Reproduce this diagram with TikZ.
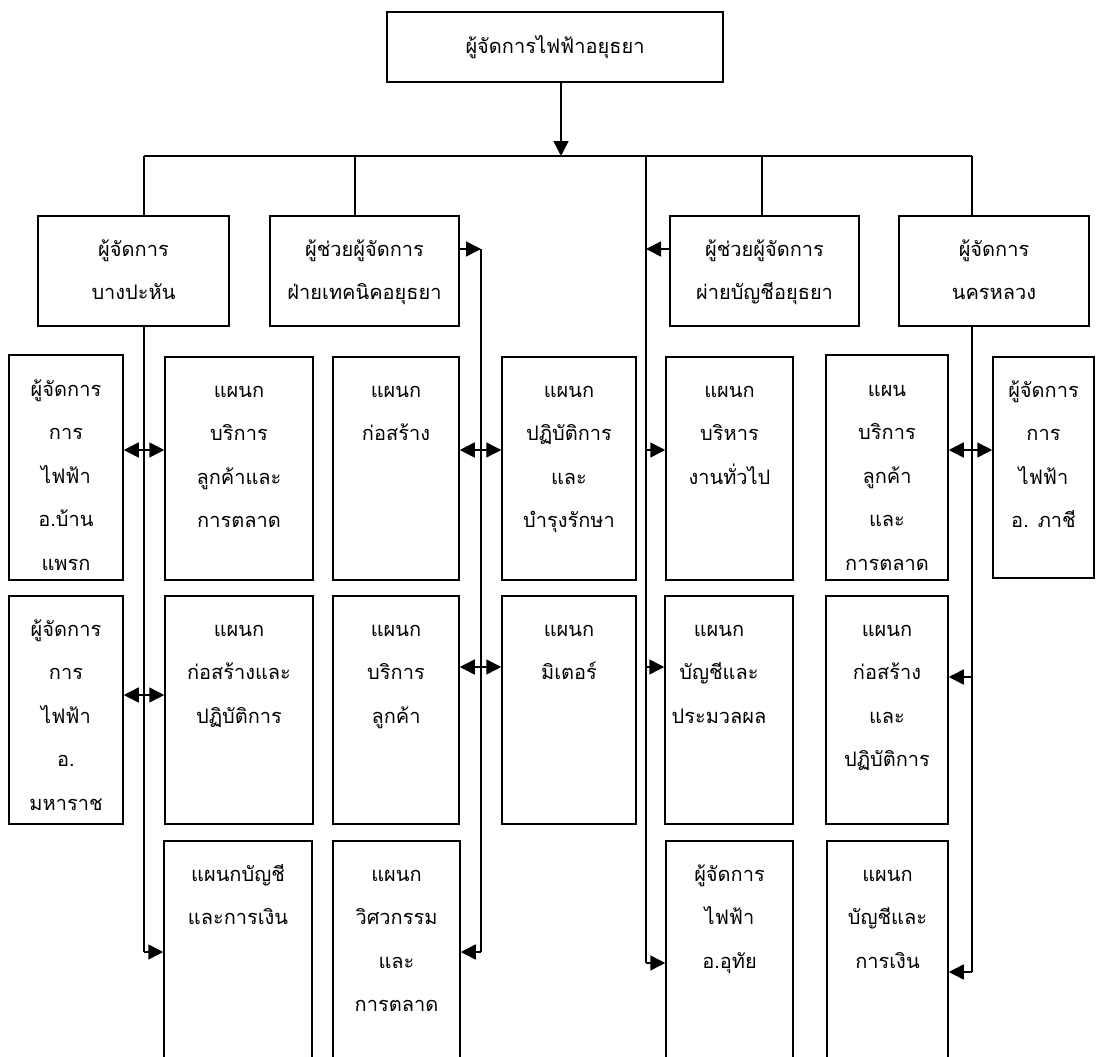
\documentclass[tikz,border=0pt]{standalone}
\usepackage{fontspec}
\newfontfamily\thaifont[Script=Thai]{Loma}
\usetikzlibrary{arrows.meta,fit}
\newcommand\tl[1]{\parbox[t]{240pt}{\centering #1}}
\begin{document}
\begin{tikzpicture}[x=1pt,y=-1pt,
  ln/.style={line width=1.5pt},
  arr/.style={line width=1.5pt,-{Triangle[length=15pt,width=15pt]}},
  box/.style={draw,line width=1.5pt,rectangle,inner sep=0pt},
  txt/.style={anchor=base,inner sep=0pt,font=\thaifont\fontsize{20}{43.5}\selectfont}]
\useasboundingbox (0,0) rectangle (1096,1057);
\clip (0,0) rectangle (1096,1057);
% boxes
\node[box,fit={(387,12) (723,82)}] (top) {};
\node[box,fit={(38,216) (229,326)}] (m1) {};
\node[box,fit={(270,216) (459,326)}] (m2) {};
\node[box,fit={(670,216) (859,326)}] (m3) {};
\node[box,fit={(899,216) (1089,326)}] (m4) {};
\node[box,fit={(9,355) (123,580)}] (A1) {};
\node[box,fit={(165,357) (313,580)}] (B1) {};
\node[box,fit={(333,357) (459,580)}] (C1) {};
\node[box,fit={(502,357) (636,580)}] (D1) {};
\node[box,fit={(666,357) (793,580)}] (E1) {};
\node[box,fit={(826,355) (948,580)}] (F1) {};
\node[box,fit={(993,357) (1094,578)}] (G1) {};
\node[box,fit={(9,596) (123,824)}] (A2) {};
\node[box,fit={(165,596) (313,824)}] (B2) {};
\node[box,fit={(333,596) (459,824)}] (C2) {};
\node[box,fit={(502,596) (636,824)}] (D2) {};
\node[box,fit={(665,596) (793,824)}] (E2) {};
\node[box,fit={(826,596) (948,824)}] (F2) {};
\node[box,fit={(164,841) (312,1090)}] (B3) {};
\node[box,fit={(333,841) (460,1090)}] (C3) {};
\node[box,fit={(666,841) (793,1090)}] (E3) {};
\node[box,fit={(827,841) (948,1090)}] (F3) {};
% texts
\node[txt] (topt) at ([yshift=-42pt]top.north) {\tl{ผู้จัดการไฟฟ้าอยุธยา}};
\node[txt] (m1t) at ([yshift=-41pt]m1.north) {\tl{ผู้จัดการ\\บางปะหัน}};
\node[txt] (m2t) at ([yshift=-41pt]m2.north) {\tl{ผู้ช่วยผู้จัดการ\\ฝ่ายเทคนิคอยุธยา}};
\node[txt] (m3t) at ([yshift=-41pt]m3.north) {\tl{ผู้ช่วยผู้จัดการ\\ผ่ายบัญชีอยุธยา}};
\node[txt] (m4t) at ([yshift=-41pt]m4.north) {\tl{ผู้จัดการ\\นครหลวง}};
\node[txt] (A1t) at ([yshift=-42pt]A1.north) {\tl{ผู้จัดการ\\การ\\ไฟฟ้า\\อ.บ้าน\\แพรก}};
\node[txt] (B1t) at ([yshift=-41pt]B1.north) {\tl{แผนก\\บริการ\\ลูกค้าและ\\การตลาด}};
\node[txt] (C1t) at ([yshift=-41pt]C1.north) {\tl{แผนก\\ก่อสร้าง}};
\node[txt] (D1t) at ([yshift=-41pt]D1.north) {\tl{แผนก\\ปฏิบัติการ\\และ\\บำรุงรักษา}};
\node[txt] (E1t) at ([yshift=-41pt]E1.north) {\tl{แผนก\\บริหาร\\งานทั่วไป}};
\node[txt] (F1t) at ([yshift=-42pt]F1.north) {\tl{แผน\\บริการ\\ลูกค้า\\และ\\การตลาด}};
\node[txt] (G1t) at ([yshift=-41pt]G1.north) {\tl{ผู้จัดการ\\การ\\ไฟฟ้า\\อ. ภาชี}};
\node[txt] (A2t) at ([yshift=-41pt]A2.north) {\tl{ผู้จัดการ\\การ\\ไฟฟ้า\\อ.\\มหาราช}};
\node[txt] (B2t) at ([yshift=-41pt]B2.north) {\tl{แผนก\\ก่อสร้างและ\\ปฏิบัติการ}};
\node[txt] (C2t) at ([yshift=-41pt]C2.north) {\tl{แผนก\\บริการ\\ลูกค้า}};
\node[txt] (D2t) at ([yshift=-41pt]D2.north) {\tl{แผนก\\มิเตอร์}};
\node[txt] (E2t) at ([yshift=-41pt,xshift=-10pt]E2.north) {\tl{แผนก\\บัญชีและ\\ประมวลผล}};
\node[txt] (F2t) at ([yshift=-41pt]F2.north) {\tl{แผนก\\ก่อสร้าง\\และ\\ปฏิบัติการ}};
\node[txt] (B3t) at ([yshift=-41pt]B3.north) {\tl{แผนกบัญชี\\และการเงิน}};
\node[txt] (C3t) at ([yshift=-41pt]C3.north) {\tl{แผนก\\วิศวกรรม\\และ\\การตลาด}};
\node[txt] (E3t) at ([yshift=-41pt]E3.north) {\tl{ผู้จัดการ\\ไฟฟ้า\\อ.อุทัย}};
\node[txt] (F3t) at ([yshift=-41pt]F3.north) {\tl{แผนก\\บัญชีและ\\การเงิน}};
% coordinates
\coordinate (hb) at (561,156);
\coordinate (busL) at (144,156);
\coordinate (busR) at (972,156);
\coordinate (d2) at (355,156);
\coordinate (d3) at (762,156);
\coordinate (tC) at (646,156);
\coordinate (Lb) at (144,952);
\coordinate (L1) at (144,450);
\coordinate (L2) at (144,695);
\coordinate (Tt) at (481,249);
\coordinate (Tb) at (481,952);
\coordinate (T1) at (481,450);
\coordinate (T2) at (481,667);
\coordinate (Ct) at (646,249);
\coordinate (Cb) at (646,963);
\coordinate (C1p) at (646,450);
\coordinate (C2p) at (646,667);
\coordinate (Rb) at (972,972);
\coordinate (R1) at (972,450);
\coordinate (R2) at (972,677);
% connectors
\draw[arr] (top.south -| hb) -- (hb);
\draw[ln] (busL) -- (busR);
\draw[ln] (busL) -- (busL |- m1.north);
\draw[ln] (d2) -- (d2 |- m2.north);
\draw[ln] (d3) -- (d3 |- m3.north);
\draw[ln] (busR) -- (busR |- m4.north);
% left trunk
\draw[ln] (busL |- m1.south) -- (Lb);
\draw[arr] (Lb) -- (Lb -| B3.west);
\draw[arr] (L1) -- (L1 -| A1.east);
\draw[arr] (L1) -- (L1 -| B1.west);
\draw[arr] (L2) -- (L2 -| A2.east);
\draw[arr] (L2) -- (L2 -| B2.west);
% technical trunk
\draw[arr] (m2.east |- Tt) -- (Tt);
\draw[ln] (Tt) -- (Tb);
\draw[arr] (Tb) -- (Tb -| C3.east);
\draw[arr] (T1) -- (T1 -| C1.east);
\draw[arr] (T1) -- (T1 -| D1.west);
\draw[arr] (T2) -- (T2 -| C2.east);
\draw[arr] (T2) -- (T2 -| D2.west);
% central trunk
\draw[ln] (tC) -- (Cb);
\draw[arr] (m3.west |- Ct) -- (Ct);
\draw[arr] (Cb) -- (Cb -| E3.west);
\draw[arr] (C1p) -- (C1p -| E1.west);
\draw[arr] (C2p) -- (C2p -| E2.west);
% right trunk
\draw[ln] (busR |- m4.south) -- (Rb);
\draw[arr] (Rb) -- (Rb -| F3.east);
\draw[arr] (R1) -- (R1 -| F1.east);
\draw[arr] (R1) -- (R1 -| G1.west);
\draw[arr] (R2) -- (R2 -| F2.east);
\end{tikzpicture}
\end{document}
